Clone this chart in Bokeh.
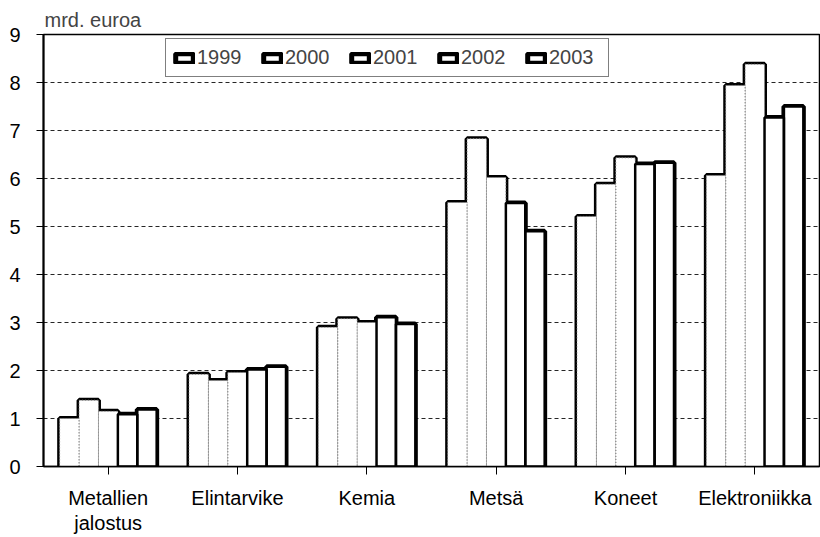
from bokeh.plotting import figure
from bokeh.models import (Range1d, FixedTicker, Legend, LegendItem,
                          ColumnDataSource, LinearAxis)
from bokeh.transform import dodge
from bokeh.embed import file_html
from bokeh.resources import INLINE

# ---- data ----
categories = ["Metallien jalostus", "Elintarvike", "Kemia", "Metsä", "Koneet", "Elektroniikka"]
label_line1 = ["Metallien", "Elintarvike", "Kemia", "Metsä", "Koneet", "Elektroniikka"]
label_line2 = ["jalostus", "", "", "", "", ""]
years = ["1999", "2000", "2001", "2002", "2003"]
v1999 = [1.0, 1.92, 2.9, 5.5, 5.21, 6.06]
v2000 = [1.38, 1.79, 3.08, 6.83, 5.88, 7.94]
v2001 = [1.15, 1.96, 3.0, 6.02, 6.43, 8.38]
v2002 = [1.09, 2.02, 3.11, 5.49, 6.3, 7.27]
v2003 = [1.19, 2.08, 2.97, 4.9, 6.33, 7.5]
y_ticks = [0, 1, 2, 3, 4, 5, 6, 7, 8, 9]
y_unit = "mrd. euroa"

FONT = "Liberation Sans"
FS = "20px"

n = len(categories)
centers = [i + 0.5 for i in range(n)]
src = ColumnDataSource(dict(xc=centers, cat=categories, y1999=v1999, y2000=v2000,
                            y2001=v2001, y2002=v2002, y2003=v2003))

p = figure(x_range=Range1d(0, n), y_range=Range1d(0, 9),
           width=820, height=537, output_backend="svg", toolbar_location=None,
           min_border_left=43, min_border_right=1, min_border_top=34, min_border_bottom=71,
           background_fill_color="white", border_fill_color="white",
           title=y_unit)

p.title.text_font = FONT
p.title.text_font_size = FS
p.title.text_font_style = "normal"
p.title.align = "left"
p.title.offset = 1
p.title.standoff = 8

bw = 0.15
offsets = [-0.3, -0.15, 0.0, 0.15, 0.3]

# layer 1: thick contour
contour = []
for yr, off in zip(years, offsets):
    r = p.vbar(x=dodge("xc", off), top="y" + yr, width=bw, source=src,
               fill_color="white", line_color="black", line_width=5)
    contour.append(r)
# layer 2: white interiors
for yr, off in zip(years, offsets):
    p.vbar(x=dodge("xc", off), top="y" + yr, width=bw, source=src,
           fill_color="white", line_color=None)
# layer 3: faint dotted separators
for yr, off in zip(years, offsets):
    p.vbar(x=dodge("xc", off), top="y" + yr, width=bw, source=src,
           fill_color=None, line_color="#8a8a8a", line_width=1, line_dash="1 2")
# layer 4: heavier outline for the last two years
for yr, off in zip(years[3:], offsets[3:]):
    p.vbar(x=dodge("xc", off), top="y" + yr, width=bw, source=src,
           fill_color=None, line_color="black", line_width=2.5)

# axes
p.yaxis.ticker = FixedTicker(ticks=y_ticks)
p.yaxis.axis_line_color = "black"
p.yaxis.axis_line_width = 2
p.yaxis.major_tick_out = 7
p.yaxis.major_tick_in = 0
p.yaxis.minor_tick_line_color = None
p.yaxis.major_label_standoff = 16

p.xaxis.ticker = FixedTicker(ticks=centers)
p.xaxis.major_label_overrides = dict(zip(centers, label_line1))
p.xaxis.axis_line_color = "black"
p.xaxis.axis_line_width = 1.5
p.xaxis.major_tick_out = 8
p.xaxis.major_tick_in = 0
p.xaxis.minor_tick_line_color = None
p.xaxis.major_label_standoff = 12
for ax in (p.xaxis, p.yaxis):
    ax.major_label_text_font = FONT
    ax.major_label_text_font_size = FS
    ax.major_label_text_color = "black"
    ax.major_tick_line_color = "black"

ax2 = LinearAxis(ticker=FixedTicker(ticks=centers),
                 major_label_overrides=dict(zip(centers, label_line2)),
                 axis_line_color=None, major_tick_line_color=None,
                 minor_tick_line_color=None, major_tick_out=0, major_tick_in=0,
                 major_label_standoff=0, major_label_text_font=FONT,
                 major_label_text_font_size=FS, major_label_text_color="black")
p.add_layout(ax2, "below")

p.xgrid.visible = False
p.ygrid.grid_line_color = "black"
p.ygrid.grid_line_dash = "4 3"
p.ygrid.grid_line_width = 1
p.ygrid.grid_line_alpha = 0.85

p.outline_line_color = "black"
p.outline_line_width = 1.5

legend = Legend(items=[LegendItem(label=yr, renderers=[r]) for yr, r in zip(years, contour)],
                orientation="horizontal", location=(122, 389),
                label_text_font=FONT, label_text_font_size=FS,
                glyph_width=22, glyph_height=12, label_standoff=2, spacing=12,
                padding=7, margin=0, label_width=52,
                border_line_color="black", border_line_width=1.5,
                background_fill_color="white", background_fill_alpha=1)
p.add_layout(legend)

open("out.html", "w").write(file_html(p, INLINE))
